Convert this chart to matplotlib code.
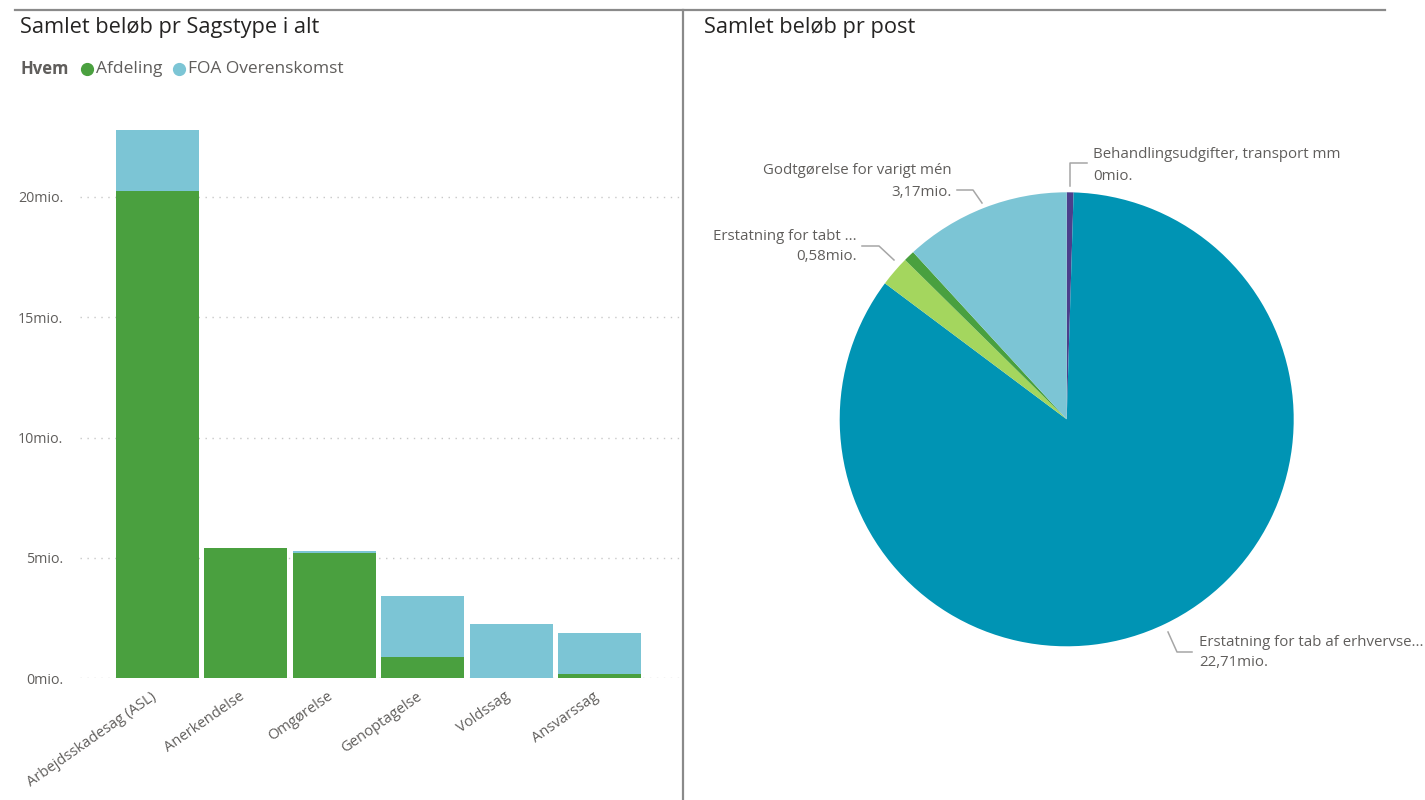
import matplotlib
matplotlib.use("Agg")
import matplotlib.pyplot as plt
import matplotlib.transforms as mtransforms
from matplotlib.lines import Line2D

# --- data -------------------------------------------------------------
sagstyper = ["Arbejdsskadesag (ASL)", "Anerkendelse", "Omgørelse",
             "Genoptagelse", "Voldssag", "Ansvarssag"]
afdeling = [20.25, 5.41, 5.18, 0.89, 0.0, 0.18]
foa_overenskomst = [2.54, 0.0, 0.11, 2.52, 2.23, 1.70]
y_ticks = [0, 5, 10, 15, 20]

poster = ["Behandlingsudgifter, transport mm",
          "Erstatning for tab af erhvervsevne",
          "Erstatning for tabt arbejdsfortjeneste",
          "Forsørgertab",
          "Godtgørelse for varigt mén"]
post_beloeb = [0.13, 22.71, 0.58, 0.21, 3.17]
post_labels = ["0mio.", "22,71mio.", "0,58mio.", None, "3,17mio."]
post_short = ["Behandlingsudgifter, transport mm", "Erstatning for tab af erhvervse...",
              "Erstatning for tabt ...", None, "Godtgørelse for varigt mén"]

GREEN = "#4AA03F"
LIGHTBLUE = "#7CC5D5"
PIE_COLORS = ["#4B3F8C", "#0094B4", "#A4D65E", "#49A03F", "#7CC5D5"]
TITLE_C = "#252423"
TEXT_C = "#605E5C"
FONT = "Open Sans"

W, H = 1425, 800
plt.rcParams["font.family"] = [FONT, "DejaVu Sans"]
fig = plt.figure(figsize=(W / 100, H / 100), dpi=100)


def fx(px):
    return px / W


def fy(py):
    return 1 - py / H


# frame lines
fig.add_artist(Line2D([fx(15), fx(1385)], [fy(10), fy(10)], color="#8A8A8A", lw=1.6))
fig.add_artist(Line2D([fx(683), fx(683)], [fy(10), fy(800)], color="#8A8A8A", lw=1.6))

# --- left: stacked bars ----------------------------------------------
fig.text(fx(20), fy(28), "Samlet beløb pr Sagstype i alt", fontsize=15.7,
         color=TITLE_C, va="center", ha="left")
fig.text(fx(20), fy(69), "Hvem", fontsize=12, color=TEXT_C, fontweight="bold",
         va="center")
fig.add_artist(Line2D([fx(87)], [fy(69)], marker="o", ms=8.5, color=GREEN, lw=0))
fig.text(fx(96), fy(69), "Afdeling", fontsize=12.5, color=TEXT_C, va="center")
fig.add_artist(Line2D([fx(179)], [fy(69)], marker="o", ms=8.5, color=LIGHTBLUE, lw=0))
fig.text(fx(188), fy(69), "FOA Overenskomst", fontsize=12.5, color=TEXT_C, va="center")

ymax = 24.0
ax = fig.add_axes([fx(80), fy(678), fx(600), ymax * 24.05 / H])
x = list(range(len(sagstyper)))
ax.bar(x, afdeling, width=0.94, color=GREEN, zorder=3)
ax.bar(x, foa_overenskomst, bottom=afdeling, width=0.94, color=LIGHTBLUE, zorder=3)
ax.set_xlim(-0.877, 5.91)
ax.set_ylim(0, ymax)
ax.set_yticks(y_ticks)
ax.set_yticklabels([f"{v}mio." for v in y_ticks])
ax.grid(axis="y", color="#C8C8C8", linestyle=(0, (1, 4)), lw=1, zorder=0)
ax.set_xticks(x)
ax.set_xticklabels(sagstyper, rotation=35, ha="right", rotation_mode="anchor")
for s in ax.spines.values():
    s.set_visible(False)
ax.tick_params(axis="both", length=0, colors=TEXT_C, labelsize=10.3)
ax.tick_params(axis="x", labelsize=10.6)
ax.tick_params(axis="y", pad=12)
ax.tick_params(axis="x", pad=8)
shift = mtransforms.ScaledTranslation(-7 / 100, 0, fig.dpi_scale_trans)
for lbl in ax.get_xticklabels():
    lbl.set_transform(lbl.get_transform() + shift)

# --- right: pie -------------------------------------------------------
fig.text(fx(704), fy(28), "Samlet beløb pr post", fontsize=15.7,
         color=TITLE_C, va="center", ha="left")

cx, cy, half = 1066.7, 419.3, 330
pax = fig.add_axes([fx(cx - half), fy(cy + half), fx(2 * half), 2 * half / H])
pax.pie(post_beloeb, colors=PIE_COLORS, radius=227, center=(0, 0),
        startangle=90, counterclock=False, frame=False,
        wedgeprops=dict(linewidth=0))
pax.set_xlim(-half, half)
pax.set_ylim(-half, half)
pax.set_aspect("auto")
pax.axis("off")


def leader(points):
    xs = [p[0] - cx for p in points]
    ys = [cy - p[1] for p in points]
    pax.plot(xs, ys, color="#A6A6A6", lw=1.1, clip_on=False)


def plabel(px, py, text, ha):
    pax.text(px - cx, cy - py, text, fontsize=10.8, color=TEXT_C, ha=ha,
             va="center", clip_on=False)


# Behandlingsudgifter
leader([(1070, 186), (1070, 163), (1087, 163)])
plabel(1093, 155, post_short[0], "left")
plabel(1093, 176, post_labels[0], "left")
# Godtgørelse
leader([(957, 190), (973, 190), (982, 203)])
plabel(952, 171, post_short[4], "right")
plabel(952, 192, post_labels[4], "right")
# Erstatning for tabt
leader([(862, 246), (879, 246), (894, 260)])
plabel(857, 237, post_short[2], "right")
plabel(857, 257, post_labels[2], "right")
# Erstatning for tab af erhvervsevne
leader([(1168, 632), (1177, 652), (1192, 652)])
plabel(1199, 643, post_short[1], "left")
plabel(1199, 663, post_labels[1], "left")

fig.savefig("out.png", dpi=100, facecolor="white")
